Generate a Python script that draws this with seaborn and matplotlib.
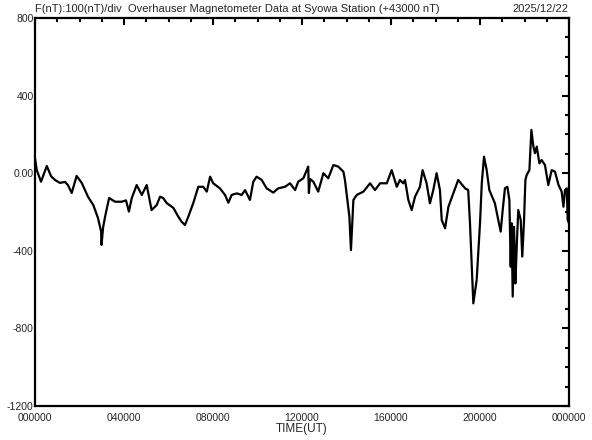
import numpy as np
import pandas as pd
import seaborn as sns
import matplotlib.pyplot as plt
from matplotlib.ticker import MultipleLocator

sns.set_style('white')
plt.rcParams['font.family'] = ['Liberation Sans', 'DejaVu Sans']

# hours since 00 UT, and F - 43000 nT
hours = [0.00, 0.08, 0.27, 0.53, 0.72, 0.90, 1.12, 1.35, 1.48, 1.65, 1.87, 2.10,
         2.38, 2.62, 2.83, 2.97, 2.99, 3.06, 3.15, 3.33, 3.60, 3.90, 4.09, 4.22,
         4.35, 4.57, 4.80, 5.02, 5.24, 5.47, 5.62, 5.76, 5.92, 6.22, 6.44, 6.59,
         6.74, 6.89, 7.11, 7.34, 7.56, 7.72, 7.87, 8.01, 8.31, 8.54, 8.69, 8.84,
         9.07, 9.29, 9.44, 9.66, 9.81, 9.96, 10.19, 10.41, 10.71, 10.93, 11.24,
         11.46, 11.69, 11.83, 12.06, 12.28, 12.31, 12.36, 12.51, 12.73, 12.96,
         13.18, 13.41, 13.63, 13.86, 13.93, 14.04, 14.13, 14.20, 14.31, 14.46,
         14.76, 15.06, 15.28, 15.51, 15.81, 16.03, 16.26, 16.40, 16.55, 16.63,
         16.78, 16.93, 17.08, 17.30, 17.42, 17.60, 17.75, 17.90, 18.05, 18.20,
         18.28, 18.43, 18.58, 18.80, 19.02, 19.33, 19.47, 19.55, 19.63, 19.70,
         19.85, 20.00, 20.08, 20.18, 20.30, 20.42, 20.67, 20.82, 20.93, 21.02,
         21.12, 21.23, 21.32, 21.38, 21.42, 21.47, 21.53, 21.59, 21.65, 21.72,
         21.83, 21.90, 21.98, 22.04, 22.10, 22.22, 22.31, 22.40, 22.47, 22.55,
         22.67, 22.77, 22.92, 23.07, 23.22, 23.37, 23.53, 23.67, 23.75, 23.82,
         23.90, 23.94, 24.00]
f_nt = [75, 16, -44, 37, -15, -35, -50, -45, -61, -102, -14, -50,
        -121, -164, -231, -300, -370, -280, -224, -128, -147, -147, -140, -198,
        -128, -61, -112, -61, -190, -164, -121, -128, -154, -179, -224, -250,
        -267, -224, -155, -70, -70, -95, -18, -52, -78, -112, -152, -112,
        -104, -112, -87, -138, -44, -18, -35, -78, -100, -78, -70,
        -52, -87, -44, -26, 34, -102, -30, -44, -95, 0,
        -26, 42, 34, 8, -35, -138, -224, -396, -138, -112,
        -95, -52, -87, -52, -52, 16, -70, -35, -52, -35,
        -138, -190, -121, -70, 16, -52, -155, -87, 0, -87,
        -241, -284, -173, -104, -35, -78, -87, -258, -482, -671,
        -551, -258, -52, 85, 16, -87, -155, -241, -301, -190,
        -78, -70, -138, -482, -258, -636, -276, -568, -379, -190,
        -241, -430, -241, -35, -9, 16, 223, 137, 103, 137,
        51, 68, 42, -61, 16, 8, -61, -95, -173, -87,
        -78, -241, -258]

x_ticks = [0, 4, 8, 12, 16, 20, 24]
x_labels = ['000000', '040000', '080000', '120000', '160000', '200000', '000000']
y_ticks = [-1200, -800, -400, 0, 400, 800]
y_labels = ['-1200', '-800', '-400', '0.00', '400', '800']

df = pd.DataFrame({'hour': hours, 'F': f_nt})

fig = plt.figure(figsize=(5.92, 4.40), dpi=100)
ax = fig.add_axes([35 / 592, 1 - 406 / 440, 534 / 592, 388 / 440])
sns.lineplot(data=df, x='hour', y='F', ax=ax, color='black', linewidth=1.6)

ax.set_xlim(0, 24)
ax.set_ylim(-1200, 800)
ax.set_xticks(x_ticks)
ax.set_xticklabels(x_labels)
ax.set_yticks(y_ticks)
ax.set_yticklabels(y_labels)
ax.xaxis.set_minor_locator(MultipleLocator(1))
ax.yaxis.set_minor_locator(MultipleLocator(100))
ax.tick_params(which='both', direction='in', top=True, right=True,
               color='black', width=1.5, labelsize=7.5)
ax.tick_params(which='major', length=5)
ax.tick_params(which='minor', length=3)
ax.tick_params(axis='y', pad=1)
ax.tick_params(axis='x', pad=5)
for s in ax.spines.values():
    s.set_linewidth(1.6)
    s.set_color('black')

ax.set_xlabel('TIME(UT)', fontsize=8.5, labelpad=0)
ax.set_ylabel('')

fig.text(35 / 592, 1 - 9 / 440, 'F(nT):100(nT)/div  Overhauser Magnetometer Data at Syowa Station (+43000 nT)',
         fontsize=8, ha='left', va='center')
fig.text(568 / 592, 1 - 9 / 440, '2025/12/22', fontsize=8, ha='right', va='center')

fig.savefig('out.png', dpi=100)
